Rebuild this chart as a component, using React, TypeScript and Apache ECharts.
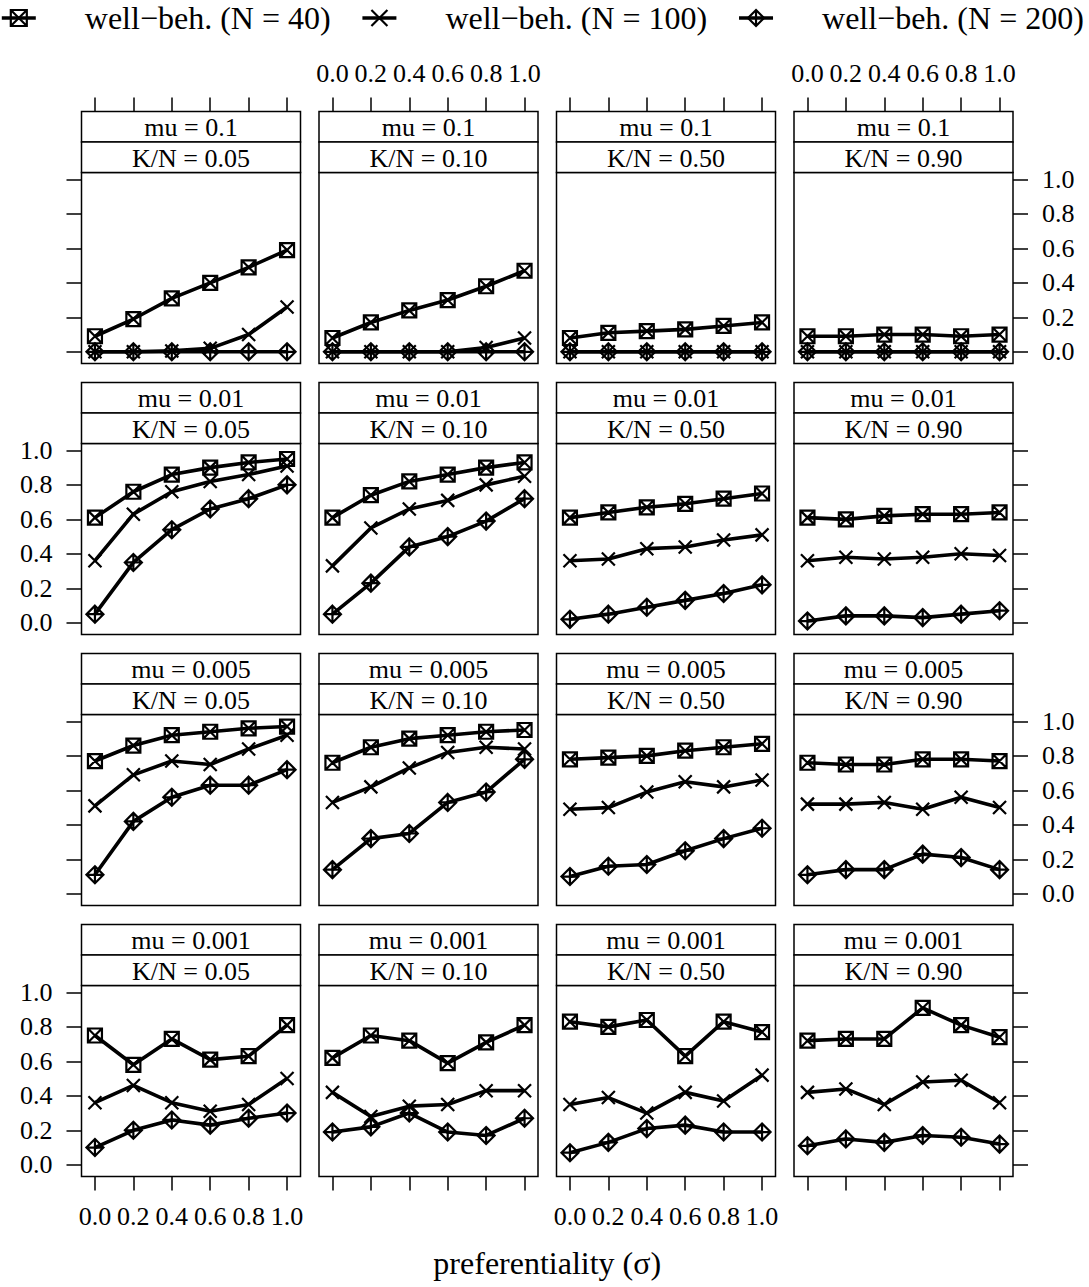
import React, { useEffect, useRef } from "react";
import * as echarts from "echarts";

const sigma = [0, 0.2, 0.4, 0.6, 0.8, 1.0];
const tickValues = [0, 0.2, 0.4, 0.6, 0.8, 1.0];
const muLabels = ["0.1", "0.01", "0.005", "0.001"];
const knLabels = ["0.05", "0.10", "0.50", "0.90"];
const seriesNames = ["well−beh. (N = 40)", "well−beh. (N = 100)", "well−beh. (N = 200)"];
const xTitle = "preferentiality (σ)";

// each array: one row per K/N level (0.05, 0.10, 0.50, 0.90), six values along σ
const mu0100_N40 = [
  [0.09, 0.19, 0.31, 0.40, 0.49, 0.59],
  [0.08, 0.17, 0.24, 0.30, 0.38, 0.47],
  [0.08, 0.11, 0.12, 0.13, 0.15, 0.17],
  [0.09, 0.09, 0.10, 0.10, 0.09, 0.10],
];
const mu0100_N100 = [
  [0.0, 0.0, 0.005, 0.02, 0.10, 0.26],
  [0.0, 0.0, 0.0, 0.0, 0.025, 0.08],
  [0.0, 0.0, 0.0, 0.0, 0.0, 0.0],
  [0.0, 0.0, 0.0, 0.0, 0.0, 0.0],
];
const mu0100_N200 = [
  [0.0, 0.0, 0.0, 0.0, 0.0, 0.0],
  [0.0, 0.0, 0.0, 0.0, 0.0, 0.0],
  [0.0, 0.0, 0.0, 0.0, 0.0, 0.0],
  [0.0, 0.0, 0.0, 0.0, 0.0, 0.0],
];
const mu0010_N40 = [
  [0.61, 0.76, 0.86, 0.90, 0.93, 0.95],
  [0.61, 0.74, 0.82, 0.86, 0.90, 0.93],
  [0.61, 0.64, 0.67, 0.69, 0.72, 0.75],
  [0.61, 0.60, 0.62, 0.63, 0.63, 0.64],
];
const mu0010_N100 = [
  [0.36, 0.63, 0.76, 0.82, 0.86, 0.91],
  [0.33, 0.55, 0.66, 0.71, 0.80, 0.85],
  [0.36, 0.37, 0.43, 0.44, 0.48, 0.51],
  [0.36, 0.38, 0.37, 0.38, 0.40, 0.39],
];
const mu0010_N200 = [
  [0.05, 0.35, 0.54, 0.66, 0.72, 0.80],
  [0.05, 0.23, 0.44, 0.50, 0.59, 0.72],
  [0.02, 0.05, 0.09, 0.13, 0.17, 0.22],
  [0.01, 0.04, 0.04, 0.03, 0.05, 0.07],
];
const mu0005_N40 = [
  [0.77, 0.86, 0.92, 0.94, 0.96, 0.97],
  [0.76, 0.85, 0.90, 0.92, 0.94, 0.95],
  [0.78, 0.79, 0.80, 0.83, 0.85, 0.87],
  [0.76, 0.75, 0.75, 0.78, 0.78, 0.77],
];
const mu0005_N100 = [
  [0.51, 0.69, 0.77, 0.75, 0.84, 0.92],
  [0.53, 0.62, 0.73, 0.82, 0.85, 0.84],
  [0.49, 0.50, 0.59, 0.65, 0.62, 0.66],
  [0.52, 0.52, 0.53, 0.49, 0.56, 0.50],
];
const mu0005_N200 = [
  [0.11, 0.42, 0.56, 0.63, 0.63, 0.72],
  [0.14, 0.32, 0.35, 0.53, 0.59, 0.78],
  [0.10, 0.16, 0.17, 0.25, 0.32, 0.38],
  [0.11, 0.14, 0.14, 0.23, 0.21, 0.14],
];
const mu0001_N40 = [
  [0.75, 0.58, 0.73, 0.61, 0.63, 0.81],
  [0.62, 0.75, 0.72, 0.59, 0.71, 0.81],
  [0.83, 0.80, 0.84, 0.63, 0.83, 0.77],
  [0.72, 0.73, 0.73, 0.91, 0.81, 0.74],
];
const mu0001_N100 = [
  [0.36, 0.46, 0.36, 0.31, 0.35, 0.50],
  [0.42, 0.28, 0.34, 0.35, 0.43, 0.43],
  [0.35, 0.39, 0.30, 0.42, 0.37, 0.52],
  [0.42, 0.44, 0.35, 0.48, 0.49, 0.36],
];
const mu0001_N200 = [
  [0.10, 0.20, 0.26, 0.23, 0.27, 0.30],
  [0.19, 0.22, 0.30, 0.19, 0.17, 0.27],
  [0.07, 0.13, 0.21, 0.23, 0.19, 0.19],
  [0.11, 0.15, 0.13, 0.17, 0.16, 0.12],
];

const byMu = [
  [mu0100_N40, mu0100_N100, mu0100_N200],
  [mu0010_N40, mu0010_N100, mu0010_N200],
  [mu0005_N40, mu0005_N100, mu0005_N200],
  [mu0001_N40, mu0001_N100, mu0001_N200],
];

const FONT = "'Liberation Serif', serif";
const W = 1089;
const H = 1287;
const SYMBOLS = [
  "path://M0,0L10,0L10,10L0,10Z M0,0L10,10 M10,0L0,10",
  "path://M0,0L10,10 M10,0L0,10",
  "path://M5,0L10,5L5,10L0,5Z M5,0L5,10 M0,5L10,5",
];
const SYMBOL_SIZES = [14, 13, 17];

const PANEL_LEFT0 = 81.5;
const PANEL_STEP_X = 237.5;
const PANEL_W = 219;
const STRIP_TOP0 = 111.5;
const PANEL_STEP_Y = 271;
const STRIP_H = 30.5;
const PLOT_H = 191;

function buildOption() {
  const grid: any[] = [];
  const xAxis: any[] = [];
  const yAxis: any[] = [];
  const series: any[] = [];
  const graphic: any[] = [];
  const fmt = (v: number) => v.toFixed(1);
  const labelStyle = { fontSize: 26, fontFamily: FONT, color: "#000" };
  const tickStyle = { color: "#000", width: 1.5 };

  for (let r = 0; r < 4; r++) {
    for (let c = 0; c < 4; c++) {
      const idx = r * 4 + c;
      const left = PANEL_LEFT0 + c * PANEL_STEP_X;
      const stripTop = STRIP_TOP0 + r * PANEL_STEP_Y;
      const top = stripTop + 2 * STRIP_H;
      grid.push({
        left,
        top,
        width: PANEL_W,
        height: PLOT_H,
        show: true,
        borderColor: "#000",
        borderWidth: 1.5,
        backgroundColor: "rgba(0,0,0,0)",
      });
      const isTop = r === 0;
      const isBottom = r === 3;
      xAxis.push({
        gridIndex: idx,
        type: "value",
        min: -0.07,
        max: 1.07,
        show: isTop || isBottom,
        position: isTop ? "top" : "bottom",
        offset: isTop ? 2 * STRIP_H : 0,
        axisLine: { show: false, onZero: false },
        splitLine: { show: false },
        axisTick: { show: true, inside: false, length: 14, lineStyle: tickStyle, customValues: tickValues },
        axisLabel: {
          show: (isTop && (c === 1 || c === 3)) || (isBottom && (c === 0 || c === 2)),
          customValues: tickValues,
          formatter: fmt,
          margin: isTop ? 25 : 27,
          ...labelStyle,
        },
      });
      const isLeft = c === 0;
      const isRight = c === 3;
      yAxis.push({
        gridIndex: idx,
        type: "value",
        min: -0.068,
        max: 1.04,
        show: isLeft || isRight,
        position: isLeft ? "left" : "right",
        axisLine: { show: false, onZero: false },
        splitLine: { show: false },
        axisTick: { show: true, inside: false, length: 15, lineStyle: tickStyle, customValues: tickValues },
        axisLabel: {
          show: (isLeft && (r === 1 || r === 3)) || (isRight && (r === 0 || r === 2)),
          customValues: tickValues,
          formatter: fmt,
          margin: 29,
          ...labelStyle,
        },
      });
      for (let k = 0; k < 3; k++) {
        const vals = byMu[r][k][c];
        series.push({
          type: "line",
          name: seriesNames[k],
          xAxisIndex: idx,
          yAxisIndex: idx,
          data: sigma.map((s, i) => [s, vals[i]]),
          symbol: SYMBOLS[k],
          symbolSize: SYMBOL_SIZES[k],
          showAllSymbol: true,
          lineStyle: { color: "#000", width: 3.6 },
          itemStyle: { color: "rgba(0,0,0,0)", borderColor: "#000", borderWidth: 2.2 },
          emphasis: { disabled: true },
          z: 2 + k,
        });
      }
      const strips = ["mu = " + muLabels[r], "K/N = " + knLabels[c]];
      strips.forEach((txt, j) => {
        const y = stripTop + j * STRIP_H;
        graphic.push({
          type: "rect",
          shape: { x: left, y, width: PANEL_W, height: STRIP_H },
          style: { fill: "#fff", stroke: "#000", lineWidth: 1.5 },
          z: 10,
        });
        graphic.push({
          type: "text",
          x: left + PANEL_W / 2,
          y: y + STRIP_H / 2 + 1,
          style: { text: txt, fontSize: 26, fontFamily: FONT, fill: "#000", align: "center", verticalAlign: "middle" },
          z: 11,
        });
      });
    }
  }

  graphic.push({
    type: "text",
    x: PANEL_LEFT0 + (3 * PANEL_STEP_X + PANEL_W) / 2,
    y: 1263,
    style: { text: xTitle, fontSize: 32, fontFamily: FONT, fill: "#000", align: "center", verticalAlign: "middle" },
  });

  return {
    animation: false,
    backgroundColor: "#fff",
    legend: {
      data: seriesNames,
      left: 0,
      top: 2,
      width: 1089,
      padding: 0,
      itemWidth: 34,
      itemHeight: 20,
      itemGap: 30,
      lineStyle: { width: 3.6, color: "#000" },
      itemStyle: { color: "rgba(0,0,0,0)", borderColor: "#000", borderWidth: 2.2 },
      textStyle: { fontSize: 32, fontFamily: FONT, color: "#000", padding: [0, 0, 0, 44] },
      selectedMode: false,
    },
    grid,
    xAxis,
    yAxis,
    series,
    graphic,
  };
}

export default function App() {
  const ref = useRef<HTMLDivElement>(null);
  useEffect(() => {
    if (!ref.current) return;
    const chart = echarts.init(ref.current, null, { renderer: "svg" });
    chart.setOption(buildOption() as any);
    return () => chart.dispose();
  }, []);
  return <div ref={ref} style={{ position: "absolute", left: 0, top: 0, width: W, height: H }} />;
}
